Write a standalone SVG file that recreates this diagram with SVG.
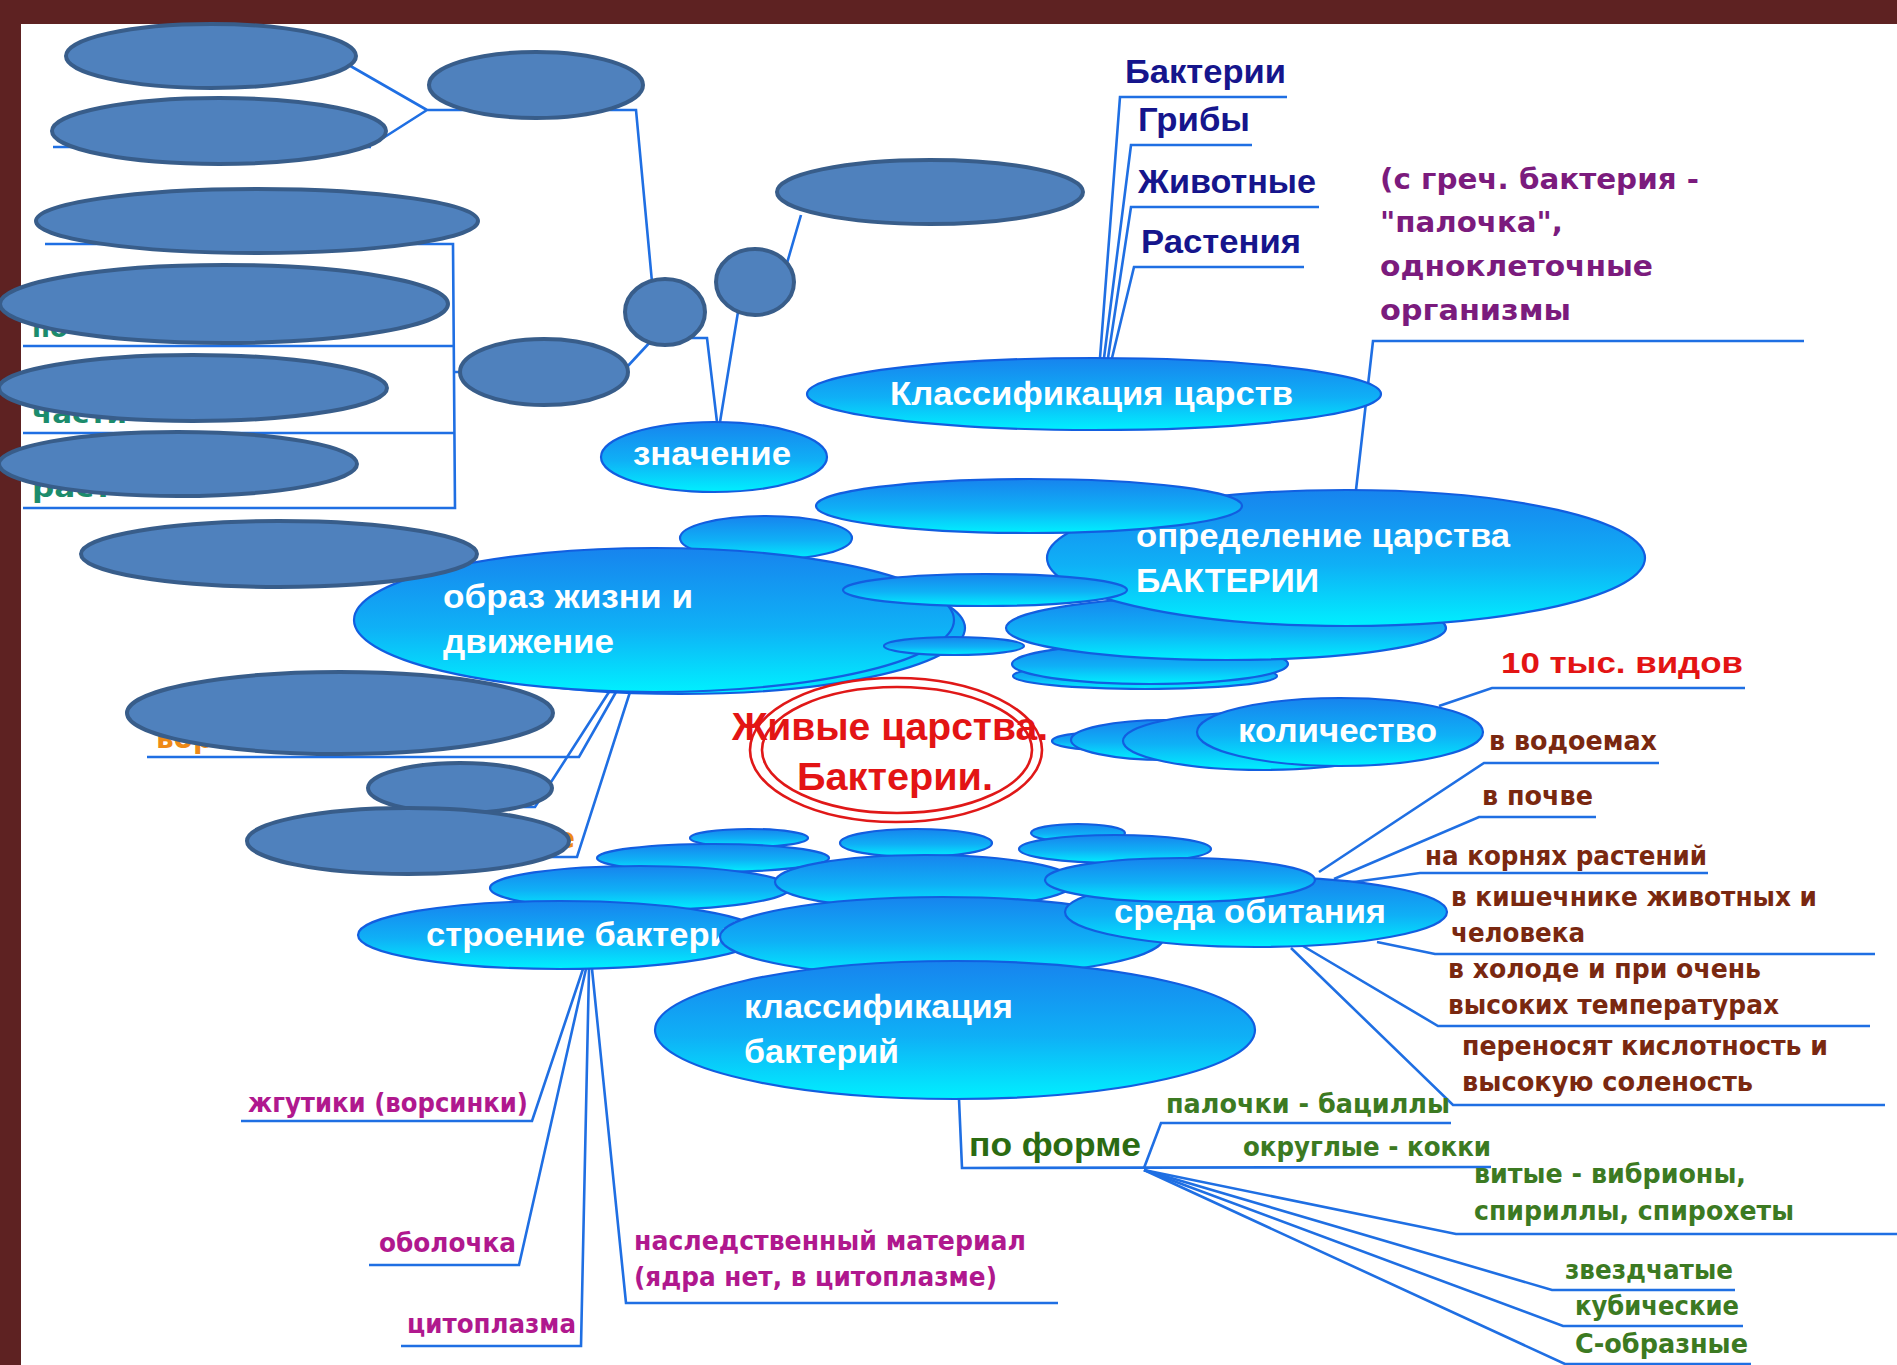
<svg xmlns="http://www.w3.org/2000/svg" width="1897" height="1365" viewBox="0 0 1897 1365">
<defs>
<linearGradient id="cy" x1="0" y1="0" x2="0" y2="1">
<stop offset="0" stop-color="#1784ee"/>
<stop offset="0.55" stop-color="#0fb0f6"/>
<stop offset="1" stop-color="#00f0ff"/>
</linearGradient>
<style>
.cy{fill:url(#cy);stroke:#125ee0;stroke-width:2.2}
.dk{fill:#4f81bd;stroke:#385d8a;stroke-width:4}
.ln{fill:none;stroke:#1f6fe3;stroke-width:2.6;stroke-linejoin:miter}
.st{fill:none;stroke:#e01818;stroke-width:2.6}
.a{font-family:"Liberation Sans",Arial,sans-serif;font-weight:bold}
.d{font-family:"DejaVu Sans",Verdana,sans-serif;font-weight:bold;font-size:27px}
.wt{font-size:34px;fill:#ffffff}
.nv{font-size:34px;fill:#15158c}
.pu{fill:#7b1b7d;font-size:28px}
.br{fill:#7a2810}
.gr{fill:#3c7a22}
.mg{fill:#b0188e}
.rd{fill:#e31414}
.tl{fill:#1c8c6c;font-size:26px}
.or{fill:#ef8a17;font-size:28px}
</style>
</defs>

<rect x="0" y="0" width="1897" height="1365" fill="#ffffff"/>
<rect x="0" y="0" width="1897" height="24" fill="#5e2222"/>
<rect x="0" y="0" width="21" height="1365" fill="#5e2222"/>

<g id="connectors">
<path class="ln" d="M340,60 L427,110 M380,140 L427,110 M427,110 L636,110 L652,282"/>
<path class="ln" d="M53,147 L371,147"/>
<path class="ln" d="M690,338 L707,338 L717,422"/>
<path class="ln" d="M801,215 L785,270 L738,312 L720,422"/>
<path class="ln" d="M45,244 L453,244 L455,508 L23,508 M23,346 L455,346 M23,433 L455,433 M455,372 L464,372"/>
<path class="ln" d="M626,368 L652,340"/>
<path class="ln" d="M1287,97 L1120,97 L1100,358 M1252,145 L1131,145 L1104,358 M1319,207 L1131,207 L1108,358 M1304,267 L1134,267 L1112,358"/>
<path class="ln" d="M1804,341 L1373,341 L1356,490"/>
<path class="ln" d="M1439,706 L1492,688 L1745,688"/>
<path class="ln" d="M1319,872 L1484,763 L1659,763"/>
<path class="ln" d="M1334,879 L1479,817 L1596,817"/>
<path class="ln" d="M1339,884 L1420,873 L1708,873"/>
<path class="ln" d="M1377,942 L1435,954 L1875,954"/>
<path class="ln" d="M1303,946 L1438,1026 L1870,1026"/>
<path class="ln" d="M1291,948 L1453,1105 L1885,1105"/>
<path class="ln" d="M583,969 L532,1121 L241,1121"/>
<path class="ln" d="M586,969 L519,1265 L369,1265"/>
<path class="ln" d="M589,969 L581,1346 L401,1346"/>
<path class="ln" d="M592,969 L626,1303 L1058,1303"/>
<path class="ln" d="M959,1099 L962,1168 L1491,1167"/>
<path class="ln" d="M1144,1168 L1161,1123 L1451,1123"/>
<path class="ln" d="M1144,1170 L1456,1234 L1897,1234"/>
<path class="ln" d="M1144,1170 L1552,1290 L1735,1290"/>
<path class="ln" d="M1144,1170 L1563,1326 L1743,1326"/>
<path class="ln" d="M1144,1170 L1565,1364 L1751,1364"/>
<path class="ln" d="M616,692 L579,757 L147,757"/>
<path class="ln" d="M609,692 L535,807 L440,807"/>
<path class="ln" d="M630,692 L577,857 L300,857"/>
</g>

<g id="node-klass-carstv">
<ellipse class="cy" cx="1094" cy="394" rx="287" ry="36"/>
<text class="a wt" x="890" y="405" textLength="403" lengthAdjust="spacingAndGlyphs">Классификация царств</text>
</g>

<g id="node-znachenie">
<ellipse class="cy" cx="714" cy="457" rx="113" ry="35"/>
<text class="a wt" x="633" y="465" textLength="158" lengthAdjust="spacingAndGlyphs">значение</text>
</g>

<g id="cloud-top-back">
<ellipse class="cy" cx="1145" cy="676" rx="132" ry="13"/>
<ellipse class="cy" cx="1150" cy="664" rx="138" ry="20"/>
<ellipse class="cy" cx="1226" cy="628" rx="220" ry="32"/>
<ellipse class="cy" cx="680" cy="628" rx="285" ry="66"/>
<ellipse class="cy" cx="766" cy="538" rx="86" ry="22"/>
</g>

<g id="node-obraz">
<ellipse class="cy" cx="654" cy="620" rx="300" ry="72"/>
<text class="a wt" x="443" y="608" textLength="250" lengthAdjust="spacingAndGlyphs">образ жизни и</text>
<text class="a wt" x="443" y="653" textLength="171" lengthAdjust="spacingAndGlyphs">движение</text>
</g>

<g id="node-opredelenie">
<ellipse class="cy" cx="1346" cy="558" rx="299" ry="68"/>
<text class="a wt" x="1136" y="547" textLength="374" lengthAdjust="spacingAndGlyphs">определение царства</text>
<text class="a wt" x="1136" y="592" textLength="183" lengthAdjust="spacingAndGlyphs">БАКТЕРИИ</text>
</g>

<g id="cloud-top-front">
<ellipse class="cy" cx="1029" cy="506" rx="213" ry="27"/>
<ellipse class="cy" cx="985" cy="590" rx="142" ry="16"/>
<ellipse class="cy" cx="954" cy="646" rx="70" ry="9"/>
</g>

<g id="node-kolichestvo">
<ellipse class="cy" cx="1105" cy="741" rx="53" ry="9"/>
<ellipse class="cy" cx="1166" cy="740" rx="95" ry="20"/>
<ellipse class="cy" cx="1263" cy="741" rx="140" ry="29"/>
<ellipse class="cy" cx="1340" cy="732" rx="143" ry="34"/>
<text class="a wt" x="1238" y="742" textLength="199" lengthAdjust="spacingAndGlyphs">количество</text>
</g>

<g id="cloud-bottom-back">
<ellipse class="cy" cx="749" cy="838" rx="59" ry="9"/>
<ellipse class="cy" cx="916" cy="843" rx="76" ry="14"/>
<ellipse class="cy" cx="1078" cy="833" rx="47" ry="9"/>
<ellipse class="cy" cx="1115" cy="849" rx="96" ry="14"/>
<ellipse class="cy" cx="713" cy="858" rx="116" ry="14"/>
<ellipse class="cy" cx="640" cy="888" rx="150" ry="22"/>
</g>

<g id="node-stroenie">
<ellipse class="cy" cx="560" cy="935" rx="202" ry="34"/>
<text class="a wt" x="426" y="946" textLength="326" lengthAdjust="spacingAndGlyphs">строение бактерий</text>
</g>

<g id="cloud-bottom-mid">
<ellipse class="cy" cx="925" cy="882" rx="150" ry="27"/>
<ellipse class="cy" cx="942" cy="937" rx="222" ry="40"/>
</g>

<g id="node-sreda">
<ellipse class="cy" cx="1256" cy="912" rx="191" ry="35"/>
<text class="a wt" x="1114" y="923" textLength="272" lengthAdjust="spacingAndGlyphs">среда обитания</text>
<ellipse class="cy" cx="1180" cy="880" rx="135" ry="22"/>
</g>

<g id="node-klass-bakt">
<ellipse class="cy" cx="955" cy="1030" rx="300" ry="69"/>
<text class="a wt" x="744" y="1018" textLength="269" lengthAdjust="spacingAndGlyphs">классификация</text>
<text class="a wt" x="744" y="1063" textLength="155" lengthAdjust="spacingAndGlyphs">бактерий</text>
</g>

<g id="node-center">
<ellipse class="st" cx="896" cy="750" rx="146" ry="72"/>
<ellipse class="st" cx="897" cy="750" rx="135" ry="63"/>
<text class="a rd" font-size="38" x="732" y="740" textLength="316" lengthAdjust="spacingAndGlyphs">Живые царства.</text>
<text class="a rd" font-size="38" x="797" y="790" textLength="196" lengthAdjust="spacingAndGlyphs">Бактерии.</text>
</g>

<g id="labels-carstva">
<text class="a nv" x="1125" y="83" textLength="161" lengthAdjust="spacingAndGlyphs">Бактерии</text>
<text class="a nv" x="1138" y="131" textLength="112" lengthAdjust="spacingAndGlyphs">Грибы</text>
<text class="a nv" x="1138" y="193" textLength="178" lengthAdjust="spacingAndGlyphs">Животные</text>
<text class="a nv" x="1141" y="253" textLength="160" lengthAdjust="spacingAndGlyphs">Растения</text>
</g>

<g id="label-definition">
<text class="d pu" x="1380" y="189" textLength="319" lengthAdjust="spacingAndGlyphs">(с греч. бактерия -</text>
<text class="d pu" x="1380" y="232" textLength="183" lengthAdjust="spacingAndGlyphs">"палочка",</text>
<text class="d pu" x="1380" y="276" textLength="273" lengthAdjust="spacingAndGlyphs">одноклеточные</text>
<text class="d pu" x="1380" y="320" textLength="191" lengthAdjust="spacingAndGlyphs">организмы</text>
</g>

<g id="label-count">
<text class="a rd" font-size="30" x="1501" y="673" textLength="242" lengthAdjust="spacingAndGlyphs">10 тыс. видов</text>
</g>

<g id="labels-sreda">
<text class="d br" x="1489" y="750" textLength="168" lengthAdjust="spacingAndGlyphs">в водоемах</text>
<text class="d br" x="1482" y="805" textLength="111" lengthAdjust="spacingAndGlyphs">в почве</text>
<text class="d br" x="1425" y="865" textLength="282" lengthAdjust="spacingAndGlyphs">на корнях растений</text>
<text class="d br" x="1451" y="906" textLength="366" lengthAdjust="spacingAndGlyphs">в кишечнике животных и</text>
<text class="d br" x="1451" y="942" textLength="134" lengthAdjust="spacingAndGlyphs">человека</text>
<text class="d br" x="1448" y="978" textLength="313" lengthAdjust="spacingAndGlyphs">в холоде и при очень</text>
<text class="d br" x="1448" y="1014" textLength="331" lengthAdjust="spacingAndGlyphs">высоких температурах</text>
<text class="d br" x="1462" y="1055" textLength="366" lengthAdjust="spacingAndGlyphs">переносят кислотность и</text>
<text class="d br" x="1462" y="1091" textLength="291" lengthAdjust="spacingAndGlyphs">высокую соленость</text>
</g>

<g id="labels-forma">
<text class="a" font-size="34" fill="#2b6b12" x="969" y="1156" textLength="172" lengthAdjust="spacingAndGlyphs">по форме</text>
<text class="d gr" x="1166" y="1113" textLength="284" lengthAdjust="spacingAndGlyphs">палочки - бациллы</text>
<text class="d gr" x="1243" y="1156" textLength="248" lengthAdjust="spacingAndGlyphs">округлые - кокки</text>
<text class="d gr" x="1474" y="1183" textLength="272" lengthAdjust="spacingAndGlyphs">витые - вибрионы,</text>
<text class="d gr" x="1474" y="1220" textLength="320" lengthAdjust="spacingAndGlyphs">спириллы, спирохеты</text>
<text class="d gr" x="1565" y="1279" textLength="168" lengthAdjust="spacingAndGlyphs">звездчатые</text>
<text class="d gr" x="1575" y="1315" textLength="164" lengthAdjust="spacingAndGlyphs">кубические</text>
<text class="d gr" x="1575" y="1353" textLength="173" lengthAdjust="spacingAndGlyphs">С-образные</text>
</g>

<g id="labels-stroenie">
<text class="d mg" x="248" y="1112" textLength="280" lengthAdjust="spacingAndGlyphs">жгутики (ворсинки)</text>
<text class="d mg" x="379" y="1252" textLength="137" lengthAdjust="spacingAndGlyphs">оболочка</text>
<text class="d mg" x="407" y="1333" textLength="169" lengthAdjust="spacingAndGlyphs">цитоплазма</text>
<text class="d mg" x="634" y="1250" textLength="392" lengthAdjust="spacingAndGlyphs">наследственный материал</text>
<text class="d mg" x="634" y="1286" textLength="363" lengthAdjust="spacingAndGlyphs">(ядра нет, в цитоплазме)</text>
</g>

<g id="hidden-label-fragments">
<text class="d tl" x="32" y="337">по</text>
<text class="d tl" x="32" y="423" textLength="95" lengthAdjust="spacingAndGlyphs">части</text>
<text class="d tl" x="32" y="497" font-size="24" textLength="80" lengthAdjust="spacingAndGlyphs">раст</text>
<text class="d or" x="156" y="748">вор</text>
<text class="d or" x="556" y="848">е</text>
</g>

<g id="covers">
<g id="cover-1"><ellipse class="dk" cx="211" cy="56" rx="145" ry="32"/></g>
<g id="cover-2"><ellipse class="dk" cx="536" cy="85" rx="107" ry="33"/></g>
<g id="cover-3"><ellipse class="dk" cx="219" cy="131" rx="167" ry="33"/></g>
<g id="cover-4"><ellipse class="dk" cx="257" cy="221" rx="221" ry="32"/></g>
<g id="cover-5"><ellipse class="dk" cx="224" cy="304" rx="224" ry="39"/></g>
<g id="cover-6"><ellipse class="dk" cx="193" cy="388" rx="194" ry="33"/></g>
<g id="cover-7"><ellipse class="dk" cx="178" cy="464" rx="179" ry="32"/></g>
<g id="cover-8"><ellipse class="dk" cx="544" cy="372" rx="84" ry="33"/></g>
<g id="cover-9"><ellipse class="dk" cx="665" cy="312" rx="40" ry="33"/></g>
<g id="cover-10"><ellipse class="dk" cx="755" cy="282" rx="39" ry="33"/></g>
<g id="cover-11"><ellipse class="dk" cx="930" cy="192" rx="153" ry="32"/></g>
<g id="cover-12"><ellipse class="dk" cx="279" cy="554" rx="198" ry="33"/></g>
<g id="cover-13"><ellipse class="dk" cx="340" cy="713" rx="213" ry="41"/></g>
<g id="cover-14"><ellipse class="dk" cx="460" cy="788" rx="92" ry="25"/></g>
<g id="cover-15"><ellipse class="dk" cx="408" cy="841" rx="161" ry="33"/></g>
</g>
</svg>
